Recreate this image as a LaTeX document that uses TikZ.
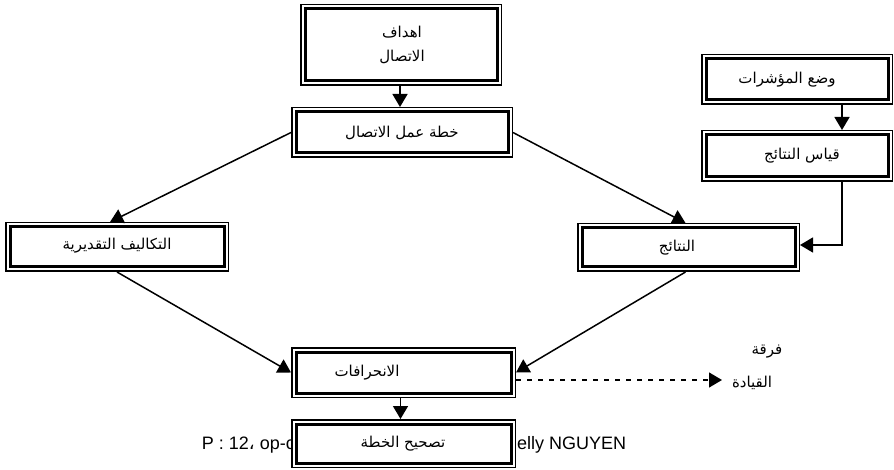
\documentclass[tikz,border=0pt]{standalone}
\usepackage{fontspec}
\setmainfont{Liberation Sans}
\newfontfamily\arfont[Script=Arabic]{DejaVu Sans}
\TeXXeTstate=1
\usetikzlibrary{arrows.meta}

% framed box: thin outer rule, thick inner rule
\tikzset{
  dblbox/.style={draw, line width=1.5pt, fill=white, rectangle, inner sep=0pt},
  innerrule/.style={line width=3pt},
  artext/.style={font=\arfont\fontsize{15}{17}\selectfont, inner sep=0pt, align=center},
  foot/.style={font=\fontsize{18}{20}\selectfont, inner sep=0pt},
  arr/.style={line width=1.5pt, -{Triangle[length=13pt,width=15pt]}},
  dashedarr/.style={line width=1.2pt, dash pattern=on 5pt off 6pt, -{Triangle[length=13pt,width=15pt]}}
}
% \framedbox{name}{x1}{y1}{x2}{y2}: outer edges of a framed box
\newcommand\framedbox[5]{%
  \node[dblbox, minimum width={#4-#2-1.5}, minimum height={#5-#3-1.5}]
    (#1) at ({(#2+#4)/2},{(#3+#5)/2}) {};
  \draw[innerrule] ([shift={(5pt,-5pt)}]#1.north west) rectangle
    ([shift={(-5pt,5pt)}]#1.south east);}

\begin{document}
\begin{tikzpicture}[x=1pt,y=-1pt]
\useasboundingbox[fill=white] (0,0) rectangle (894,470);

% source line under the last box
\node[foot, anchor=east] (src1) at (295,445) {P : 12{\arfont ،} op-c};
\node[foot, anchor=west] (src2) at (504,445) {Nelly NGUYEN};

% boxes
\framedbox{goals}{300}{4}{502}{86}
\framedbox{plan}{291}{107}{513}{158}
\framedbox{ind}{701}{54}{893}{105}
\framedbox{meas}{701}{130}{893}{182}
\framedbox{cost}{5}{222}{229}{272}
\framedbox{res}{577}{223}{800}{272}
\framedbox{dev}{291}{347}{516}{398}
\framedbox{fix}{291}{419}{516}{468}

% box texts
\node[artext] (t-goals1) at (402,32) {\beginR اهداف\endR};
\node[artext] (t-goals2) at (402,57) {\beginR الاتصال\endR};
\node[artext] (t-plan) at (402,133) {\beginR خطة عمل الاتصال\endR};
\node[artext] (t-ind) at (787,80) {\beginR وضع المؤشرات\endR};
\node[artext] (t-meas) at (802,156) {\beginR قياس النتائج\endR};
\node[artext] (t-cost) at (117,246) {\beginR التكاليف التقديرية\endR};
\node[artext] (t-res) at (677,248) {\beginR النتائج\endR};
\node[artext] (t-dev) at (367,373) {\beginR الانحرافات\endR};
\node[artext] (t-fix) at (403,444) {\beginR تصحيح الخطة\endR};

% team label
\node[artext] (t-team1) at (767,352) {\beginR فرقة\endR};
\node[artext] (t-team2) at (752,383) {\beginR القيادة\endR};
\coordinate (lead) at (722,380);

% connectors
\draw[arr] ([xshift=-1pt]goals.south) -- ([xshift=-1pt]goals.south |- plan.north);
\draw[arr] (plan.west) -- ([xshift=-7pt]cost.north);
\draw[arr] (plan.east) -- ([xshift=-3pt]res.north);
\draw[arr] ([xshift=45pt]ind.south) -- ([xshift=45pt]ind.south |- meas.north);
\draw[arr] ([xshift=45pt]meas.south) |- ([yshift=2.5pt]res.east);
\draw[arr] (cost.south) -- (dev.west);
\draw[arr] ([xshift=-3pt]res.south) -- (dev.east);
\draw[dashedarr] ([yshift=-7.5pt]dev.east) -- (lead);
\draw[arr] ([xshift=-3pt]dev.south) -- ([xshift=-3pt]dev.south |- fix.north);
\end{tikzpicture}
\end{document}
